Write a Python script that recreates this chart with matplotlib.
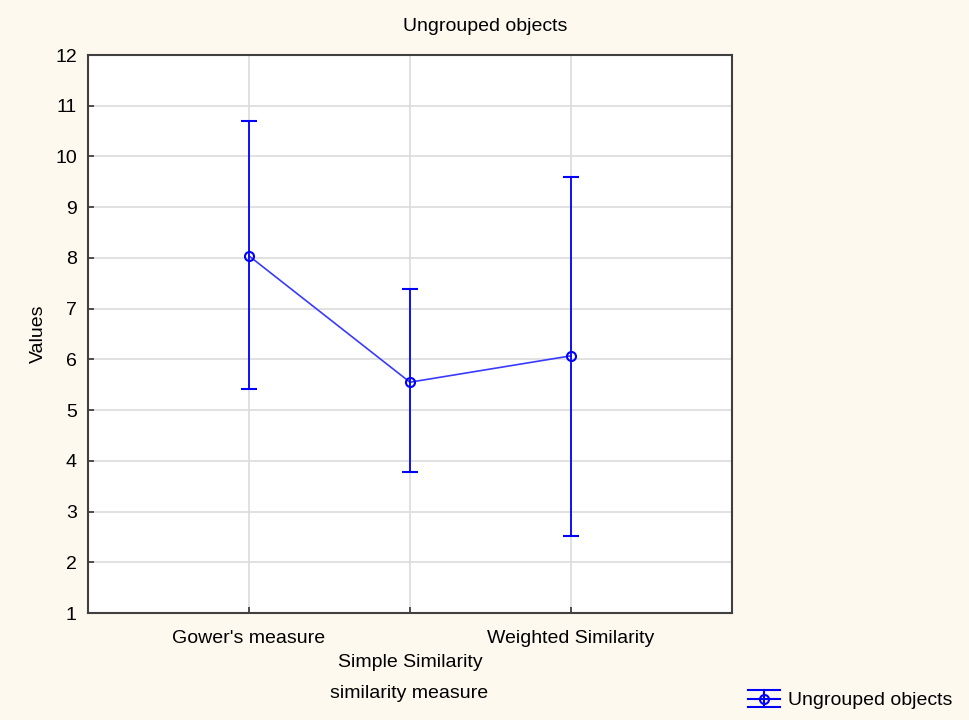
import matplotlib.pyplot as plt
from matplotlib.legend_handler import HandlerBase
from matplotlib.lines import Line2D

plt.rcParams['font.family'] = ['Liberation Sans', 'DejaVu Sans']

# 各相似度度量的均值与置信区间
categories = ["Gower's measure", "Simple Similarity", "Weighted Similarity"]
means = [8.04, 5.55, 6.07]
lower = [5.41, 3.77, 2.52]
upper = [10.70, 7.39, 9.59]

yerr_low = [m - l for m, l in zip(means, lower)]
yerr_high = [u - m for m, u in zip(means, upper)]


class ErrHandler(HandlerBase):
    # 图例符号：上下横线 + 中线 + 竖线 + 圆圈
    def create_artists(self, legend, orig_handle, xd, yd, w, h, fontsize, trans):
        yc = h / 2 - yd
        d = h * 0.62
        arts = []
        for yy in (yc - d, yc, yc + d):
            arts.append(Line2D([-xd, -xd + w], [yy, yy], color='blue', lw=1.5))
        arts.append(Line2D([-xd + w / 2] * 2, [yc - d, yc + d], color='blue', lw=1.5))
        arts.append(Line2D([-xd + w / 2], [yc], marker='o', mfc='none',
                           mec='blue', ms=6.5, mew=1.5, lw=0))
        for a in arts:
            a.set_transform(trans)
        return arts


fig = plt.figure(figsize=(9.7, 7.2), dpi=100, facecolor='#fef9ef')
ax = fig.add_axes([0.0907, 0.1486, 0.6639, 0.775])
ax.set_facecolor('white')

x = list(range(len(categories)))
ax.plot(x, means, color='#3a3aff', lw=1.2, zorder=3)
eb = ax.errorbar(x, means, yerr=[yerr_low, yerr_high], fmt='o', color='blue',
                 mfc='none', mec='blue', ms=6.5, mew=1.5, elinewidth=1.3,
                 capsize=6, capthick=1.3, zorder=4)

ax.set_xlim(-1, 3)
ax.set_ylim(1, 12)
ax.set_yticks(range(1, 13))
ax.set_xticks(x)
ax.set_xticklabels(['', '', ''])
# 刻度标签交错排列
for i, lab in enumerate(categories):
    dy = -0.088 if i == 1 else -0.045
    ax.text(i, dy, lab, transform=ax.get_xaxis_transform(), ha='center',
            va='center', fontsize=14)

ax.grid(True, color='#dcdcdc', lw=1.2)
ax.set_axisbelow(True)
ax.tick_params(direction='in', length=4, width=1.2, color='#333333',
               labelsize=14, pad=8)
for s in ax.spines.values():
    s.set_color('#404040')
    s.set_linewidth(1.5)

ax.set_ylabel('Values', fontsize=14, labelpad=6)
fig.text(0.4216, 0.037, 'similarity measure', ha='center', va='center',
         fontsize=14)
fig.text(0.5, 0.963, 'Ungrouped objects', ha='center', va='center',
         fontsize=14)

fig.legend([eb], ['Ungrouped objects'], handler_map={type(eb): ErrHandler()},
           loc='center left', bbox_to_anchor=(0.771, 0.027), frameon=False,
           fontsize=14, handlelength=1.65, handletextpad=0.41,
           borderpad=0, borderaxespad=0)

fig.savefig('out.png', dpi=100, facecolor=fig.get_facecolor())
